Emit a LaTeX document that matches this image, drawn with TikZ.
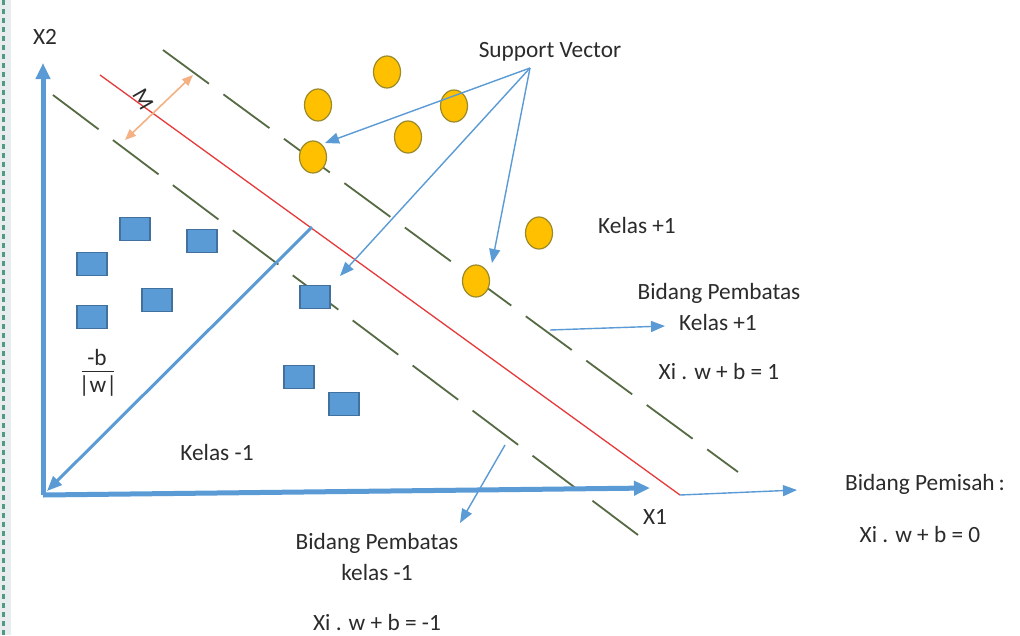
\documentclass[tikz,border=0pt]{standalone}
\usepackage{fontspec}
\setmainfont{Carlito}
\usetikzlibrary{arrows.meta,shapes.geometric}
\definecolor{axisblue}{HTML}{5B9BD5}
\definecolor{sqdraw}{HTML}{41719C}
\definecolor{circfill}{HTML}{FFC000}
\definecolor{circdraw}{HTML}{9A8A2A}
\definecolor{dashgreen}{HTML}{566B44}
\definecolor{sepred}{HTML}{E8393A}
\definecolor{marg}{HTML}{F4B183}
\definecolor{txt}{HTML}{2B2B2B}
\definecolor{stripgray}{HTML}{E9ECEE}
\definecolor{stripgreen}{HTML}{4F9A80}
\tikzset{
  lbl/.style={font=\fontsize{23.3}{28}\selectfont, text=txt, inner sep=0pt, text height=15pt, text depth=0pt},
  axisline/.style={draw=axisblue, line width=5pt, -{Triangle[length=16pt,width=14pt]}},
  pointer/.style={draw=axisblue, line width=1.4pt, -{Triangle[length=14pt,width=11pt]}},
  margin/.style={draw=dashgreen, line width=1.8pt, dash pattern=on 57pt off 18pt},
  sv/.style={ellipse, minimum width=27pt, minimum height=32pt, inner sep=0pt, fill=circfill, draw=circdraw, line width=1.2pt},
  neg/.style={rectangle, minimum width=30pt, minimum height=23pt, inner sep=0pt, fill=axisblue, draw=sqdraw, line width=1.2pt}
}
\begin{document}
\begin{tikzpicture}[x=1pt,y=-1pt]
\useasboundingbox (0,0) rectangle (1020,635);
\fill[white] (0,0) rectangle (1020,635);
\fill[stripgray] (0,0) rectangle (11,635);
\draw[stripgreen, line width=2.2pt, dash pattern=on 5pt off 4pt] (3.5,0) -- (3.5,635);

% coordinates
\coordinate (O) at (43,495);
\coordinate (X2tip) at (43,63);
\coordinate (X1tip) at (650,488);
\coordinate (rA) at (100,75);
\coordinate (rB) at (680,495);
\coordinate (uA) at (163,50);
\coordinate (uB) at (738,472);
\coordinate (lA) at (53,95);
\coordinate (lB) at (642,538);

% margins and separator
\draw[margin] (uA) -- (uB);
\draw[margin] (lA) -- (lB);
\draw[sepred, line width=1.3pt] (rA) -- (rB);

% axes
\draw[axisline] (O) -- (X2tip);
\draw[axisline] (O) -- (X1tip);

% -b/|w| arrow
\coordinate (wS) at (312,227);
\coordinate (wE) at (47,491);
\draw[draw=axisblue, line width=3pt, -{Triangle[length=15pt,width=12pt]}] (wS) -- (wE);

% margin M arrow
\coordinate (mA) at (125,140);
\coordinate (mB) at (193,75);
\draw[draw=marg, line width=1.6pt, {Triangle[length=11pt,width=9pt]}-{Triangle[length=11pt,width=9pt]}] (mA) -- (mB);
\node[lbl, rotate=-60] (mlab) at (143,99) {M};

% class +1 points
\node[sv] (c1) at (387,72) {};
\node[sv] (c2) at (318,105) {};
\node[sv] (c3) at (454,106) {};
\node[sv] (c4) at (408,137) {};
\node[sv] (c5) at (313,157) {};
\node[sv] (c6) at (539,233) {};
\node[sv] (c7) at (476,281) {};

% class -1 points
\node[neg] (s1) at (135,229) {};
\node[neg] (s2) at (202,241) {};
\node[neg] (s3) at (92,264) {};
\node[neg] (s4) at (157,300) {};
\node[neg] (s5) at (92,317) {};
\node[neg] (s6) at (315,297) {};
\node[neg] (s7) at (299,377) {};
\node[neg] (s8) at (344,404) {};

% support vector pointers
\node[lbl] (svl) at (550,50) {Support Vector};
\coordinate (svo) at (530,68);
\coordinate (t1) at (325,143);
\coordinate (t2) at (340,276);
\coordinate (t3) at (492,263);
\draw[pointer] (svo) -- (t1);
\draw[pointer] (svo) -- (t2);
\draw[pointer] (svo) -- (t3);

% labels
\node[lbl] (x2) at (45,37) {X2};
\node[lbl] (x1) at (655,517) {X1};
\node[lbl] (kp) at (637,226) {Kelas +1};
\node[lbl] (kn) at (217,453) {Kelas -1};

\node[lbl] (nb) at (97,358) {-b};
\node[lbl] (nw) at (98,385) {|w|};
\draw[txt, line width=1pt] (82,371) -- (114,371);

% Bidang Pembatas +1
\node[lbl] (bp1a) at (719,292) {Bidang Pembatas};
\node[lbl] (bp1b) at (718,323) {Kelas +1};
\node[lbl] (bp1c) at (719,372) {Xi . w + b = 1};
\coordinate (p1s) at (550,330);
\coordinate (p1e) at (665,326);
\draw[pointer] (p1s) -- (p1e);

% Bidang Pembatas -1
\node[lbl] (bn1a) at (377,542) {Bidang Pembatas};
\node[lbl] (bn1b) at (377,573) {kelas -1};
\node[lbl] (bn1c) at (377,623) {Xi . w + b = -1};
\coordinate (n1s) at (505,445);
\coordinate (n1e) at (460,523);
\draw[pointer] (n1s) -- (n1e);

% Bidang Pemisah
\node[lbl] (pma) at (925,483) {Bidang Pemisah\,:};
\node[lbl] (pmb) at (920,535) {Xi . w + b = 0};
\coordinate (pme) at (797,490);
\draw[pointer] (rB) -- (pme);
\end{tikzpicture}
\end{document}
